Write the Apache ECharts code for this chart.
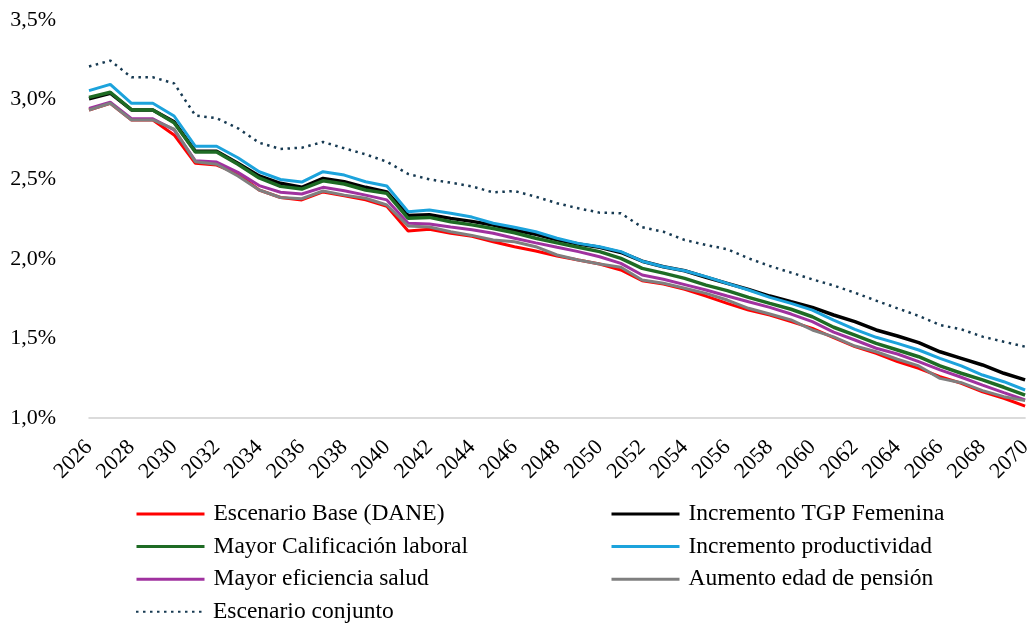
<!DOCTYPE html>
<html>
<head>
<meta charset="utf-8">
<script src="https://cdn.jsdelivr.net/npm/echarts@6/dist/echarts.min.js"></script>
<style>
  html, body { margin: 0; padding: 0; background: #fff; }
  #chart { width: 1035px; height: 623px; }
</style>
</head>
<body>
<div id="chart"></div>
<script>
// Años proyectados
const years = [];
for (let y = 2026; y <= 2070; y++) years.push(String(y));

// Tasa de crecimiento por escenario (%)
const escenarioBase = [2.935, 2.977, 2.872, 2.872, 2.778, 2.60, 2.589, 2.533, 2.432, 2.385,
  2.37, 2.42, 2.396, 2.37, 2.33, 2.175, 2.185, 2.16, 2.142, 2.107,
  2.076, 2.049, 2.018, 1.992, 1.967, 1.93, 1.862, 1.842, 1.808, 1.766,
  1.72, 1.678, 1.647, 1.605, 1.563, 1.505, 1.448, 1.406, 1.354, 1.312,
  1.26, 1.218, 1.165, 1.124, 1.075];
const incrementoTGP = [3.005, 3.04, 2.935, 2.935, 2.86, 2.675, 2.675, 2.60, 2.52, 2.474,
  2.449, 2.505, 2.484, 2.449, 2.42, 2.272, 2.277, 2.254, 2.235, 2.212,
  2.18, 2.154, 2.12, 2.093, 2.072, 2.04, 1.985, 1.95, 1.925, 1.884,
  1.846, 1.808, 1.766, 1.73, 1.695, 1.647, 1.605, 1.553, 1.515, 1.473,
  1.416, 1.375, 1.333, 1.281, 1.239];
const mayorCalificacion = [3.014, 3.046, 2.935, 2.935, 2.855, 2.671, 2.671, 2.594, 2.508, 2.455,
  2.438, 2.49, 2.47, 2.432, 2.411, 2.254, 2.26, 2.233, 2.213, 2.19,
  2.164, 2.129, 2.10, 2.072, 2.045, 2.003, 1.94, 1.91, 1.877, 1.835,
  1.80, 1.758, 1.72, 1.683, 1.636, 1.57, 1.521, 1.469, 1.427, 1.385,
  1.327, 1.281, 1.239, 1.193, 1.144];
const incrementoProductividad = [3.056, 3.096, 2.977, 2.977, 2.897, 2.707, 2.707, 2.635, 2.547, 2.498,
  2.482, 2.547, 2.526, 2.484, 2.457, 2.296, 2.307, 2.286, 2.262, 2.223,
  2.198, 2.17, 2.129, 2.097, 2.076, 2.045, 1.985, 1.95, 1.925, 1.888,
  1.846, 1.804, 1.758, 1.72, 1.678, 1.615, 1.557, 1.507, 1.469, 1.427,
  1.375, 1.327, 1.27, 1.228, 1.176];
const mayorEficienciaSalud = [2.945, 2.983, 2.88, 2.88, 2.81, 2.616, 2.608, 2.543, 2.46, 2.418,
  2.407, 2.449, 2.428, 2.40, 2.37, 2.223, 2.219, 2.20, 2.183, 2.16,
  2.129, 2.10, 2.072, 2.045, 2.013, 1.971, 1.898, 1.872, 1.838, 1.804,
  1.766, 1.73, 1.695, 1.653, 1.605, 1.54, 1.49, 1.438, 1.402, 1.354,
  1.302, 1.256, 1.207, 1.159, 1.113];
const aumentoEdadPension = [2.935, 2.977, 2.872, 2.872, 2.815, 2.61, 2.594, 2.52, 2.432, 2.385,
  2.377, 2.426, 2.40, 2.38, 2.338, 2.206, 2.20, 2.17, 2.147, 2.118,
  2.107, 2.076, 2.024, 1.992, 1.967, 1.947, 1.867, 1.846, 1.815, 1.783,
  1.741, 1.689, 1.653, 1.616, 1.553, 1.51, 1.452, 1.416, 1.369, 1.327,
  1.249, 1.222, 1.172, 1.134, 1.109];
const escenarioConjunto = [3.208, 3.245, 3.14, 3.14, 3.102, 2.90, 2.883, 2.82, 2.729, 2.69,
  2.698, 2.734, 2.694, 2.656, 2.61, 2.533, 2.499, 2.478, 2.455, 2.417,
  2.426, 2.39, 2.349, 2.317, 2.29, 2.286, 2.198, 2.17, 2.118, 2.087,
  2.06, 2.003, 1.955, 1.913, 1.871, 1.832, 1.787, 1.737, 1.689, 1.641,
  1.584, 1.557, 1.511, 1.479, 1.448];

const FONT = '"Liberation Serif", "Times New Roman", serif';

function lineSeries(name, data, color, width, type) {
  return {
    name: name,
    type: 'line',
    data: data,
    showSymbol: false,
    symbol: 'none',
    smooth: false,
    animation: false,
    color: color,
    lineStyle: { color: color, width: width, type: type || 'solid', cap: 'butt' }
  };
}

// One legend entry per cell of a two-column, four-row key
function legendItem(name, col, row, lineWidth) {
  return {
    orient: 'horizontal',
    left: col === 0 ? 135 : 610,
    top: 502 + row * 32.6,
    padding: 0,
    itemWidth: 68,
    itemHeight: 24,
    itemStyle: { opacity: 0 },
    lineStyle: { width: lineWidth },
    textStyle: { fontFamily: FONT, fontSize: 23.5, color: '#000', padding: [0, 0, 0, 4] },
    data: [name]
  };
}

const chart = echarts.init(document.getElementById('chart'), null, { renderer: 'canvas' });
chart.setOption({
  backgroundColor: '#ffffff',
  animation: false,
  grid: { left: 89, right: 8, top: 20, bottom: 205, containLabel: false },
  xAxis: {
    type: 'category',
    data: years,
    boundaryGap: false,
    axisLine: { show: true, lineStyle: { color: '#d0d0d0', width: 1.5 } },
    axisTick: { show: false },
    axisLabel: {
      interval: 1,
      rotate: 45,
      margin: 26,
      fontFamily: FONT,
      fontSize: 22,
      color: '#000'
    },
    splitLine: { show: false }
  },
  yAxis: {
    type: 'value',
    min: 1.0,
    max: 3.5,
    interval: 0.5,
    axisLine: { show: false },
    axisTick: { show: false },
    splitLine: { show: false },
    axisLabel: {
      margin: 33,
      fontFamily: FONT,
      fontSize: 22,
      color: '#000',
      formatter: v => v.toFixed(1).replace('.', ',') + '%'
    }
  },
  legend: [
    legendItem('Escenario Base (DANE)', 0, 0, 3),
    legendItem('Mayor Calificación laboral', 0, 1, 3),
    legendItem('Mayor eficiencia salud', 0, 2, 3),
    legendItem('Escenario conjunto', 0, 3, 2),
    legendItem('Incremento TGP Femenina', 1, 0, 3),
    legendItem('Incremento productividad', 1, 1, 3),
    legendItem('Aumento edad de pensión', 1, 2, 3)
  ],
  series: [
    lineSeries('Escenario Base (DANE)', escenarioBase, '#ff0000', 3),
    lineSeries('Incremento TGP Femenina', incrementoTGP, '#000000', 3.5),
    lineSeries('Mayor Calificación laboral', mayorCalificacion, '#1e6b24', 3.5),
    lineSeries('Incremento productividad', incrementoProductividad, '#1ca3dc', 3),
    lineSeries('Mayor eficiencia salud', mayorEficienciaSalud, '#a0329f', 3),
    lineSeries('Aumento edad de pensión', aumentoEdadPension, '#7f7f7f', 3),
    lineSeries('Escenario conjunto', escenarioConjunto, '#173a52', 2.5, [2.5, 4.5])
  ]
});
</script>
</body>
</html>
